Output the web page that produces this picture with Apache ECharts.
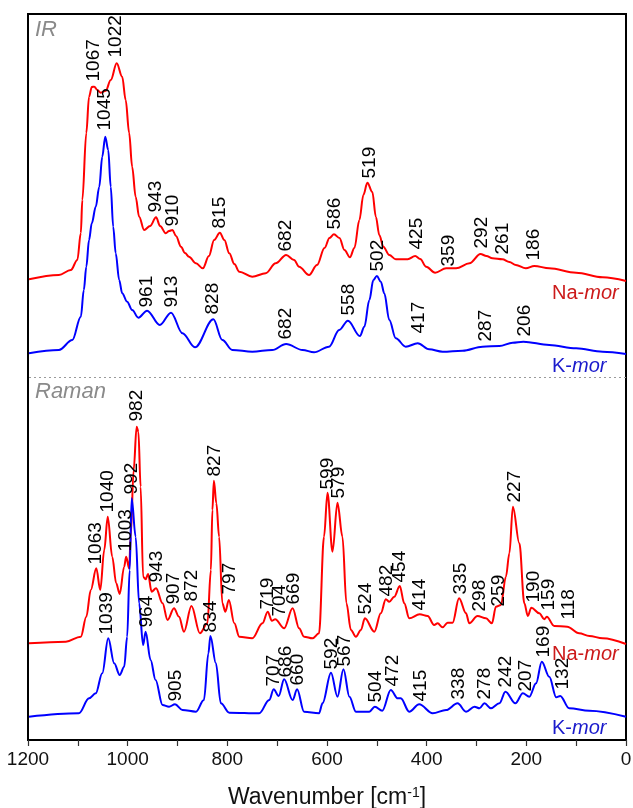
<!DOCTYPE html>
<html><head><meta charset="utf-8">
<script src="https://cdn.jsdelivr.net/npm/echarts@6/dist/echarts.min.js"></script>
<style>html,body{margin:0;padding:0;background:#fff}#c{width:633px;height:808px}</style>
</head><body><div id="c"></div><script>
// Spectra: [wavenumber cm-1, intensity (arb. units, stacked with offsets)]
const irNa = [[1198,460.7],[1138,465],[1114,470],[1101,480],[1094,507],[1091,540],[1083,607],[1077.5,643.3],[1072,653],[1067,653.3],[1061,650],[1054,647.3],[1044,649.3],[1034,660],[1022,676.7],[1011,663.3],[1004,640],[997,607],[991,573.3],[984,543.3],[977,523.3],[967,510],[955,514],[943,522.7],[935,514],[923.5,506.7],[917,509],[910,510],[903,504],[893,493.3],[885,487],[877,483.3],[863,476.7],[849,471.7],[837,484],[826.5,500],[815,507.3],[806,500],[796,486.7],[786,476],[776,468.3],[750,463.3],[723,466.7],[703,476.7],[682,485],[666,480],[656,473.3],[636,465],[620,475],[605,492],[595,502],[586,505.7],[575,502],[565,490],[554,482.7],[545,492],[535,520],[527,545],[519,557.3],[509,548],[502,523.3],[495,505],[487,493.3],[475,485],[462,480.7],[438,480.7],[423,484],[413,481],[401,473.3],[383,467.3],[361,471.7],[341,471.7],[314,476.7],[292,486],[280,484],[268,481.7],[248,480.7],[234,478],[221,475],[201,471.7],[184,474],[154,471.7],[100,467.3],[47,462.7],[0,459]];
const irK = [[1198,386.7],[1138,390],[1111,400],[1094,423.3],[1088,450],[1083,473.3],[1077.5,500],[1072,516.7],[1064,533.3],[1057,553.3],[1051,583.3],[1045,603.3],[1039,590],[1034,553.3],[1029,513.3],[1024,486.7],[1017,460],[1011,446.7],[1001,438.3],[991,430],[978.5,422.3],[961,429.3],[935.5,415],[913,427.3],[890,406.7],[865,392.7],[828,420.7],[810,400],[790,390],[750,388.3],[710,390],[682,396],[649,390],[626,387.7],[596,393.3],[575.5,410],[558,419.3],[534,404],[525,413.3],[515,440],[507,460],[500,464],[492,458.3],[485,446.7],[475,420],[462,401.7],[442,393.3],[418,396.7],[395,390.7],[368,388.3],[328,389.3],[288,393.3],[254,394],[227.5,397.3],[206,398.3],[154,395],[100,391.7],[47,388.3],[0,386]];
const ramanNa = [[1198,96.7],[1124,98.3],[1094,103.3],[1083,123.3],[1074,150],[1063,171.7],[1055,150],[1047,190],[1040,223.3],[1031,183.3],[1023,156.7],[1016,146],[1007,173.3],[1003,183.3],[997,171.7],[994,203.3],[988,270],[982,313.3],[978.5,308.3],[974,253.3],[969,163.3],[964,160.7],[959,166],[952,148.3],[943,151.7],[930,136.7],[920,120],[907,131.7],[897,123.3],[887,108.3],[872,134],[855,106.7],[840,116.7],[833,170],[830,230],[827,259.3],[822,236.7],[816.5,203.3],[810,136.7],[804,128.3],[797,140],[786,116.7],[776,103.3],[750,101.7],[729.5,116.7],[719,128.3],[710.6,119.3],[704,120.7],[686,111.7],[669,131.7],[656,111.7],[646,103.3],[629,101.7],[616,106.7],[606,203.3],[599,247.3],[589,188.3],[579,237.3],[569,203.3],[561,136.7],[552,110],[542,103.3],[532,110],[524,121.7],[505,108.3],[492,126.7],[482,140.7],[475,138.3],[465,143.3],[454,154],[445,136.7],[435,121.7],[414,125.7],[398,124],[385,115],[378,116.7],[368,112.7],[358,117.3],[348,117.3],[335,141.7],[321,126.7],[314.5,116.7],[298,124],[281,121.7],[269,116.7],[261,133.3],[251,135],[241,163.3],[234,186.7],[227,233.3],[214,196.7],[204,136.7],[197,124],[190,132.3],[174,126.7],[164,120.7],[159,123.3],[144,114],[118,113.3],[94,106.7],[73.5,104],[47,101.7],[0,96]];
const ramanK = [[1198,23.3],[1098,26.7],[1077.5,41.7],[1064,46.7],[1051,66.7],[1039,101.7],[1027,76.7],[1016,65],[1007,73.3],[1001,103.3],[996,170],[992,241.7],[984,203.3],[977,136.7],[969,95],[964,108.3],[954,80],[944,60],[930,35],[917,33.3],[905,35.7],[890,30],[863,28.3],[847,40],[838,86.7],[834,104],[823,76.7],[813,36.7],[796,27.3],[736,26.7],[716,40],[707,50.7],[697,44],[686,60.7],[669,40],[660,50.7],[646,28.3],[616,26.7],[609,36.7],[592,67.3],[579,43.3],[567,70.7],[555,43.3],[542,28.3],[515,28.3],[504,33.3],[489,29.3],[472,50],[458,41.7],[452,41.7],[435,28.3],[415,35.7],[388,26.7],[361,30],[338,36.7],[321,28.3],[304,33.3],[294,31.7],[284,36.7],[271,31.7],[254,36.7],[242,48.3],[222,36.7],[207,46.7],[194,43.3],[180.5,56.7],[169,78.3],[154,63.3],[140,42.7],[132,44],[114,31.7],[73.5,29.3],[0,23.3]];

// Peak annotations: [label, anchor wavenumber, label base height]
const irNaPeaks = [['1067',1067,658],['1022',1022,682],['943',943,527],['910',908,513],['815',815,511],['682',681,488],['586',583,510],['519',513,561],['425',419,490],['359',355,473],['292',288,491],['261',247,485],['186',185,479]];
const irKPeaks = [['1045',1044,609],['961',960,432],['913',911,432],['828',828,425],['682',681,400],['558',555,424],['502',498,468],['417',415,406],['287',280,398],['206',203,403]];
const ramanNaPeaks = [['1063',1063,175],['1040',1039,227],['1003',1002,188],['982',980,318],['943',940,157],['907',906,135],['872',870,138],['827',824,263],['797',795,145],['719',717,130],['704',693,123],['669',665,135],['599',598,250],['579',576,241],['524',521,125],['482',480,143],['454',453,157],['414',413,129],['335',330,145],['298',293,128],['259',255,133],['227',223,237],['190',185,137],['159',153,129],['118',113,120]];
const ramanKPeaks = [['1039',1041,105],['992',990,245],['964',961,112],['905',903,38],['834',833,107],['707',705,53],['686',682,62],['660',657,54],['592',590,70],['567',563,73],['504',501,37],['472',468,53],['415',411,38],['338',334,40],['278',283,40],['242',240,52],['207',201,48],['169',165,82],['132',126,50]];
const xTicks = [1200, 1000, 800, 600, 400, 200, 0];
const dividerLevel = 363;

const RED = '#ff0000', BLUE = '#0000ff';
const FONT = '"Liberation Sans", Arial, sans-serif';

function lineSeries(name, data, color) {
  return { name, type: 'line', data, symbol: 'none', smooth: 0.35, smoothMonotone: 'x',
    lineStyle: { color, width: 2 }, z: 3, silent: true };
}
function peakSeries(name, peaks) {
  return { name, type: 'scatter', symbol: 'circle', symbolSize: 1, itemStyle: { color: '#000', opacity: 0.01 }, silent: true, z: 5,
    data: peaks.map(p => ({ value: [p[1], p[2]], name: p[0] })),
    labelLayout: { hideOverlap: false },
    label: { show: true, formatter: q => q.name, position: [0, 0], rotate: 90, align: 'left',
      verticalAlign: 'middle', fontSize: 19, fontFamily: FONT, color: '#000', opacity: 1 } };
}

const chart = echarts.init(document.getElementById('c'), null, { renderer: 'canvas' });
const irKSeries = lineSeries('IR K-mor', irK, BLUE);
irKSeries.markLine = { silent: true, symbol: 'none', label: { show: false },
  lineStyle: { color: '#9a9a9a', type: [2, 3], width: 1.2 }, data: [{ yAxis: dividerLevel }] };

function txt(x, y, a, b, color) {
  return { type: 'text', x, y, silent: true, style: {
    text: '{n|' + a + '}{i|' + b + '}', verticalAlign: 'middle', align: 'left',
    rich: { n: { fontSize: 20, fontFamily: FONT, fill: color },
            i: { fontSize: 20, fontFamily: FONT, fill: color, fontStyle: 'italic' } } } };
}

chart.setOption({
  animation: false,
  backgroundColor: '#fff',
  grid: { left: 28, right: 7, top: 14, bottom: 68, containLabel: false, outerBoundsMode: 'none',
    show: true, borderColor: '#000', borderWidth: 2, backgroundColor: 'transparent' },
  xAxis: { type: 'value', min: 0, max: 1200, interval: 100, inverse: true,
    axisLine: { show: true, lineStyle: { color: '#000', width: 2 } },
    axisTick: { show: true, inside: false, length: 6, lineStyle: { color: '#333', width: 1.2 } },
    axisLabel: { fontSize: 19, fontFamily: FONT, color: '#111', margin: 10,
      formatter: v => xTicks.indexOf(v) >= 0 ? String(v) : '' },
    splitLine: { show: false },
    name: 'Wavenumber [cm{s|-1}]', nameLocation: 'middle', nameGap: 46,
    nameTextStyle: { fontSize: 23, fontFamily: FONT, color: '#111',
      rich: { s: { fontSize: 14, fontFamily: FONT, color: '#111', verticalAlign: 'top', padding: [0, 0, 10, 0] } } } },
  yAxis: { type: 'value', min: 0, max: 726, show: false, splitLine: { show: false } },
  series: [
    lineSeries('IR Na-mor', irNa, RED), irKSeries,
    lineSeries('Raman Na-mor', ramanNa, RED), lineSeries('Raman K-mor', ramanK, BLUE),
    peakSeries('IR Na peaks', irNaPeaks), peakSeries('IR K peaks', irKPeaks),
    peakSeries('Raman Na peaks', ramanNaPeaks), peakSeries('Raman K peaks', ramanKPeaks)
  ],
  graphic: [
    { type: 'text', x: 35, y: 30, silent: true, style: { text: 'IR', font: 'italic 22px ' + FONT, fill: '#8a8a8a', verticalAlign: 'middle' } },
    { type: 'text', x: 35, y: 392, silent: true, style: { text: 'Raman', font: 'italic 22px ' + FONT, fill: '#8a8a8a', verticalAlign: 'middle' } },
    txt(552, 293, 'Na-', 'mor', '#cc1a1a'),
    txt(552, 366, 'K-', 'mor', '#1a1acc'),
    txt(552, 654, 'Na-', 'mor', '#cc1a1a'),
    txt(552, 728, 'K-', 'mor', '#1a1acc')
  ]
});
</script></body></html>
